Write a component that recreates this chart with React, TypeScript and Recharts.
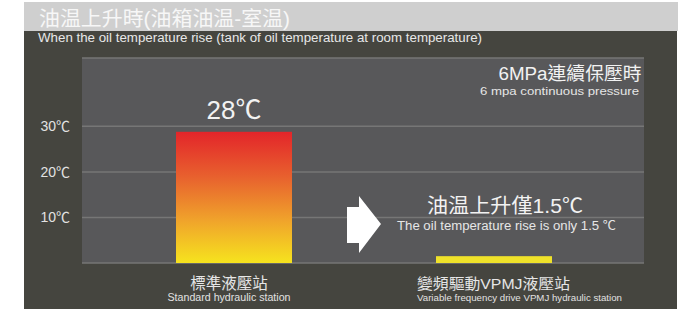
import React from 'react';
import { BarChart, Bar, XAxis, YAxis, CartesianGrid } from 'recharts';

// chart values
const stations = ['標準液壓站', '變頻驅動VPMJ液壓站'];
const stationsEn = ['Standard hydraulic station', 'Variable frequency drive VPMJ hydraulic station'];
const oilTempRise = [28.8, 1.5];
const riseLabels = ['28℃', ''];
const noteTitle = ['', '油温上升僅1.5℃'];
const noteText = ['', 'The oil temperature rise is only 1.5 ℃'];
const yTicks = [0, 10, 20, 30];

const data = stations.map((name, i) => ({
  name,
  nameEn: stationsEn[i],
  rise: oilTempRise[i],
  label: riseLabels[i],
  noteTitle: noteTitle[i],
  noteText: noteText[i],
}));

const FONT = '"Liberation Sans", Arial, "Noto Sans CJK TC", sans-serif';
const BAR_FILLS = ['url(#heatGradient)', '#efe22a'];

const BarShape = (props: any) => {
  const { x, y, width, height, index, payload } = props;
  const cx = x + width / 2;
  return (
    <g>
      <rect x={x} y={y} width={width} height={height} fill={BAR_FILLS[index % BAR_FILLS.length]} />
      {payload.label && (
        <text x={cx} y={y - 12.5} textAnchor="middle" fill="#f2f2f2" fontSize={26} fontFamily={FONT}>
          {payload.label}
        </text>
      )}
      {payload.noteTitle && (
        <g>
          <text x={cx + 11} y={y - 43} textAnchor="middle" fill="#f2f2f2" fontSize={20.5} fontFamily={FONT}
            textLength={156} lengthAdjust="spacingAndGlyphs">
            {payload.noteTitle}
          </text>
          <text x={cx + 12.5} y={y - 26} textAnchor="middle" fill="#e6e6e6" fontSize={12} fontFamily={FONT}
            textLength={219} lengthAdjust="spacingAndGlyphs">
            {payload.noteText}
          </text>
        </g>
      )}
    </g>
  );
};

const YTick = (props: any) => {
  const { x, y, payload } = props;
  if (payload.value === 0) return null;
  return (
    <text x={x - 4} y={y + 5} textAnchor="end" fill="#e2e2e2" fontSize={14} fontFamily={FONT}>
      {payload.value}℃
    </text>
  );
};

const XTick = (props: any) => {
  const { x, payload } = props;
  const i = payload.index;
  const en = stationsEn[i];
  if (i === 1) {
    const left = x - 77;
    return (
      <g>
        <text x={left} y={289} fill="#e6e6e6" fontSize={15} fontFamily={FONT} textLength={153} lengthAdjust="spacingAndGlyphs">
          {payload.value}
        </text>
        <text x={left} y={300.5} fill="#e2e2e2" fontSize={9} fontFamily={FONT} textLength={205} lengthAdjust="spacingAndGlyphs">
          {en}
        </text>
      </g>
    );
  }
  return (
    <g>
      <text x={x - 5} y={289} textAnchor="middle" fill="#e6e6e6" fontSize={15.5} fontFamily={FONT}>
        {payload.value}
      </text>
      <text x={x - 5} y={300.5} textAnchor="middle" fill="#e2e2e2" fontSize={10} fontFamily={FONT} textLength={123} lengthAdjust="spacingAndGlyphs">
        {en}
      </text>
    </g>
  );
};

const App: React.FC = () => {
  return (
    <div style={{ position: 'absolute', left: 0, top: 0, width: 683, height: 309, background: '#fff' }}>
      {/* header band + dark panel */}
      <div style={{ position: 'absolute', left: 24, top: 2, width: 654, height: 29, background: '#cfcfcf' }} />
      <div style={{ position: 'absolute', left: 24, top: 31, width: 653, height: 278, background: '#45453f' }} />

      <div style={{ position: 'absolute', left: 0, top: 0 }}>
        <BarChart width={683} height={309} data={data} margin={{ top: 58, right: 39, left: 25, bottom: 0 }}>
          <defs>
            <linearGradient id="heatGradient" x1="0" y1="0" x2="0" y2="1">
              <stop offset="0%" stopColor="#e3252a" />
              <stop offset="35%" stopColor="#e8622e" />
              <stop offset="68%" stopColor="#f0a42b" />
              <stop offset="100%" stopColor="#f6e31e" />
            </linearGradient>
          </defs>
          <CartesianGrid vertical={false} fill="#58585a" stroke="#767676" strokeWidth={1.5} />
          <XAxis
            dataKey="name"
            axisLine={false}
            tickLine={false}
            height={46}
            interval={0}
            padding={{ left: 22, right: 20 }}
            tick={<XTick />}
          />
          <YAxis
            domain={[0, 45]}
            ticks={yTicks}
            axisLine={false}
            tickLine={false}
            width={57}
            interval={0}
            tick={<YTick />}
          />
          <Bar dataKey="rise" barSize={116} isAnimationActive={false} shape={<BarShape />} />
        </BarChart>
      </div>

      {/* titles, side note and arrow */}
      <svg width={683} height={309} style={{ position: 'absolute', left: 0, top: 0, pointerEvents: 'none' }}>
        <text x={39} y={26} fill="#f7f7f7" fontSize={20.5} fontFamily={FONT} textLength={251} lengthAdjust="spacingAndGlyphs">
          油温上升時(油箱油温-室温)
        </text>
        <text x={38} y={41.5} fill="#e8e8e8" fontSize={12} fontFamily={FONT} textLength={444} lengthAdjust="spacingAndGlyphs">
          When the oil temperature rise (tank of oil temperature at room temperature)
        </text>
        <text x={641.5} y={80} textAnchor="end" fill="#f2f2f2" fontSize={18} fontFamily={FONT} textLength={143} lengthAdjust="spacingAndGlyphs">
          6MPa連續保壓時
        </text>
        <text x={639} y={94.5} textAnchor="end" fill="#e6e6e6" fontSize={11.5} fontFamily={FONT} textLength={159} lengthAdjust="spacingAndGlyphs">
          6 mpa continuous pressure
        </text>
        <polygon points="347,207 359,207 359,196 381,224 359,253 359,243 347,243" fill="#ffffff" />
      </svg>
    </div>
  );
};

export default App;
